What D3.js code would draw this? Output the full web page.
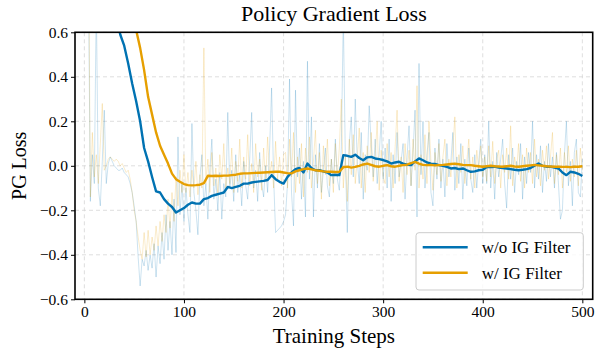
<!DOCTYPE html>
<html>
<head>
<meta charset="utf-8">
<script src="https://cdn.jsdelivr.net/npm/d3@7"></script>
<style>
  body { margin: 0; background: #fff; }
  svg { display: block; font-family: 'Liberation Serif', 'Times New Roman', serif; }
  .grid line { stroke: #d6d6d6; stroke-width: 0.8; stroke-dasharray: 4,3; }
  .axis path { display: none; }
  .axis line { stroke: #000; stroke-width: 1; }
</style>
</head>
<body>
<script>
'use strict'

const seriesNames = ['w/o IG Filter', 'w/ IG Filter']
const seriesColors = ['#0072B2', '#E69F00']
const xTicks = [0, 100, 200, 300, 400, 500]
const yTicks = [-0.6, -0.4, -0.2, 0.0, 0.2, 0.4, 0.6]

// raw loss, one value every 2 steps from step 4 to 500
const rawSteps = d3.range(4, 501, 2)
const rawNoFilter = [
  0.9, -0.16, 0.05, -0.08, 0.75, -0.10, -0.18, 0.02, 0.25, -0.08, 0.01, 0.04, 0.02, 0.0,
  -0.01, -0.02, -0.02, -0.01, -0.03, -0.04, -0.05, -0.08, -0.12, -0.18,
  -0.25, -0.41, -0.54, -0.42, -0.45, -0.38, -0.47, -0.40, -0.46, -0.35, -0.50, -0.36, -0.44, -0.30, -0.42, -0.22, -0.38, -0.25, -0.40, -0.15, -0.39, 0.13, -0.22, -0.08, -0.25,
  -0.10, -0.22, -0.30, 0.19, -0.12, -0.20, -0.31, -0.05, 0.05, -0.18, -0.08, -0.24, -0.02, 0.12, -0.15, -0.06, -0.20, -0.03, -0.24, -0.08, -0.14, 0.24, -0.10, -0.02, -0.16,
  0.05, -0.12, -0.04, -0.18, 0.02, -0.09, -0.15, 0.03, 0.24, -0.10, -0.02, -0.16, 0.06, -0.08, -0.14, 0.00, -0.12, 0.08, 0.35, -0.05, -0.30, -0.29, -0.28, -0.27, -0.25,
  -0.22, -0.08, 0.39, -0.12, -0.27, 0.34, -0.05, 0.08, -0.15, 0.02, -0.23, 0.47, -0.06, 0.22, -0.23, 0.05, -0.10, 0.10, -0.12, -0.02, 0.08, -0.09, -0.14, 0.03, -0.08,
  0.12, -0.06, -0.11, 0.08, 0.68, 0.05, -0.30, 0.10, 0.22, -0.05, 0.30, 0.02, -0.08, 0.15, -0.15, 0.05, -0.02, 0.27, 0.10, -0.05, 0.12, -0.08, 0.05, 0.20, -0.06,
  0.08, -0.10, 0.12, -0.16, 0.05, -0.08, 0.15, -0.05, 0.02, 0.10, -0.15, 0.04, 0.18, -0.09, 0.06, 0.25, -0.23, 0.46, -0.04, 0.20, -0.10, 0.05, 0.15, -0.12, -0.18,
  0.08, -0.06, 0.12, -0.10, 0.03, -0.14, 0.10, -0.05, 0.02, 0.15, -0.11, 0.04, -0.08, 0.10, -0.15, 0.03, -0.09, 0.08, -0.06, -0.12, 0.05, -0.10, 0.02, 0.12, -0.08,
  0.05, -0.08, 0.20, -0.10, 0.02, -0.15, 0.06, -0.05, 0.03, 0.12, -0.08, -0.19, 0.05, -0.06, 0.08, -0.12, 0.02, -0.04, 0.10, -0.15, 0.04, -0.08, 0.06, -0.03, 0.20,
  -0.10, 0.05, -0.06, 0.09, -0.12, 0.02, -0.07, 0.10, -0.05, 0.04, -0.10, 0.06, -0.08, -0.24, -0.20, 0.05, 0.20, -0.09, 0.02, -0.18, 0.06, 0.12, -0.12, -0.14, 0.03
]
const rawFilter = [
  1.2, -0.14, 0.15, -0.05, 0.05, -0.08, 0.10, 0.28, -0.02, 0.0, 0.03, 0.04, 0.03, 0.02,
  0.03, 0.02, 0.0, 0.01, -0.01, -0.03, -0.02, -0.06, -0.12, -0.20,
  -0.25, -0.32, -0.38, -0.42, -0.30, -0.41, -0.29, -0.40, -0.32, -0.38, -0.27, -0.36, -0.25, -0.34, -0.22, -0.30, -0.15, -0.28, -0.12, -0.25, -0.05, -0.18, -0.02, -0.12, 0.05,
  -0.12, -0.03, -0.14, -0.02, -0.10, 0.02, -0.13, -0.04, -0.10, 0.53, -0.08, 0.03, -0.12, 0.06, -0.09, -0.01, -0.13, 0.05, -0.06, 0.10, -0.11, -0.01, -0.08, 0.08, -0.12,
  0.02, -0.07, 0.12, -0.10, 0.04, -0.06, 0.14, -0.09, 0.01, -0.12, 0.10, -0.05, 0.03, -0.11, 0.08, -0.07, 0.13, -0.04, 0.02, -0.10, 0.11, -0.06, 0.04, -0.09, 0.05,
  0.06, -0.10, 0.12, -0.05, 0.15, -0.12, 0.04, -0.08, 0.10, -0.14, 0.08, -0.03, 0.13, -0.10, 0.02, 0.16, -0.08, 0.06, -0.15, 0.09, -0.04, 0.12, -0.09, 0.03, -0.12,
  0.10, -0.05, 0.08, 0.30, -0.10, 0.05, -0.16, 0.12, -0.04, 0.14, -0.08, 0.03, 0.17, -0.10, 0.06, -0.12, 0.09, -0.03, 0.15, -0.07, 0.04, 0.20, -0.11, 0.07, -0.05,
  -0.08, 0.10, -0.05, 0.06, -0.10, 0.08, 0.25, -0.07, 0.04, -0.12, 0.10, -0.04, 0.07, -0.09, 0.12, -0.02, 0.36, -0.10, 0.05, -0.06, 0.14, -0.08, 0.20, 0.02, -0.11,
  0.06, -0.04, 0.10, -0.07, 0.04, 0.12, -0.09, 0.03, -0.05, 0.08, 0.22, -0.10, 0.05, -0.03, 0.09, -0.08, 0.02, 0.12, -0.06, 0.04, -0.10, 0.07, -0.02, 0.09, -0.05,
  0.04, -0.07, 0.09, -0.05, 0.11, -0.08, 0.03, 0.07, -0.10, 0.05, -0.03, 0.08, -0.06, 0.18, -0.09, 0.04, -0.02, 0.10, -0.07, 0.05, -0.10, 0.08, -0.03, 0.06, -0.08,
  0.12, -0.05, 0.03, -0.09, 0.07, -0.02, 0.09, -0.06, 0.04, 0.15, -0.08, 0.05, -0.04, 0.08, -0.10, 0.06, -0.03, 0.09, -0.07, 0.03, -0.05, 0.07, -0.09, 0.08, -0.02
]

// smoothed loss, one value every 4 steps from step 4 to 500
const smoothSteps = d3.range(4, 501, 4)
const smoothNoFilter = [
  1.5, 1.35, 1.2, 1.08, 0.97, 0.87, 0.78, 0.68, 0.59, 0.54,
  0.46, 0.37, 0.29, 0.20, 0.08, 0.02, -0.05, -0.115, -0.12, -0.15,
  -0.17, -0.185, -0.21, -0.20, -0.19, -0.175, -0.165, -0.17, -0.17, -0.15,
  -0.145, -0.135, -0.13, -0.125, -0.12, -0.095, -0.10, -0.095, -0.09, -0.08,
  -0.08, -0.075, -0.072, -0.07, -0.068, -0.064, -0.042, -0.06, -0.072, -0.08,
  -0.05, -0.03, -0.015, -0.01, -0.03, 0.01, -0.01, -0.02, -0.02, -0.025,
  -0.03, -0.042, -0.04, -0.042, 0.048, 0.045, 0.04, 0.05, 0.035, 0.025,
  0.038, 0.04, 0.033, 0.03, 0.026, 0.02, 0.01, 0.015, 0.018, 0.01,
  0.005, 0.003, 0.02, 0.033, 0.025, 0.015, 0.01, 0.008, 0.003, 0.0,
  -0.005, -0.012, -0.01, -0.015, -0.012, -0.02, -0.027, -0.025, -0.02, -0.018,
  -0.005, -0.006, -0.004, -0.008, -0.01, -0.012, -0.015, -0.018, -0.02, -0.018,
  -0.015, -0.01, 0.0, 0.01, 0.0, -0.004, -0.004, -0.008, -0.012, -0.03,
  -0.042, -0.027, -0.03, -0.036, -0.046
]
const smoothFilter = [
  2.4, 2.2, 2.0, 1.8, 1.62, 1.45, 1.3, 1.15, 1.01, 0.9,
  0.79, 0.69, 0.61, 0.53, 0.43, 0.31, 0.23, 0.15, 0.09, 0.05,
  0.01, -0.035, -0.06, -0.072, -0.082, -0.087, -0.088, -0.087, -0.085, -0.078,
  -0.045, -0.046, -0.045, -0.046, -0.044, -0.044, -0.042, -0.04, -0.036, -0.034,
  -0.034, -0.033, -0.032, -0.031, -0.03, -0.029, -0.028, -0.027, -0.027, -0.03,
  -0.033, -0.034, -0.025, -0.02, -0.015, -0.012, -0.016, -0.02, -0.022, -0.025,
  -0.027, -0.027, -0.028, -0.027, -0.006, -0.004, -0.008, -0.005, 0.0, 0.006,
  0.01, 0.004, -0.002, -0.004, 0.0, 0.003, -0.002, -0.004, 0.0, 0.003,
  0.005, 0.012, 0.018, 0.01, 0.004, 0.003, 0.004, 0.002, 0.003, 0.004,
  0.006, 0.008, 0.01, 0.007, 0.004, 0.003, 0.003, 0.0, -0.002, -0.004,
  -0.002, 0.0, -0.002, -0.003, -0.004, -0.002, 0.0, -0.003, -0.004, -0.002,
  0.0, 0.002, 0.004, 0.002, 0.0, -0.002, -0.003, -0.004, -0.004, -0.005,
  -0.005, -0.006, -0.004, -0.004, -0.002
]

;(function () {
  const width = 603
  const height = 351
  const margin = { top: 32.3, right: 10.3, bottom: 51.7, left: 75 }
  const panelWidth = width - margin.left - margin.right
  const panelHeight = height - margin.top - margin.bottom
  const serif = "'Liberation Serif', 'Times New Roman', serif"

  const svg = d3.select('body').append('svg')
    .attr('width', width)
    .attr('height', height)

  const scaleX = d3.scaleLinear().domain([-9.4, 510.4]).range([0, panelWidth])
  const scaleY = d3.scaleLinear().domain([-0.6, 0.6]).range([panelHeight, 0])

  const plot = svg.append('g')
    .attr('transform', 'translate(' + margin.left + ',' + margin.top + ')')

  svg.append('defs').append('clipPath')
    .attr('id', 'panel-clip')
    .append('rect')
    .attr('width', panelWidth)
    .attr('height', panelHeight)

  plot.append('g').attr('class', 'grid')
    .selectAll('line.gx')
    .data(xTicks)
    .enter().append('line')
    .attr('x1', function (d) { return scaleX(d) })
    .attr('x2', function (d) { return scaleX(d) })
    .attr('y1', 0)
    .attr('y2', panelHeight)
  plot.select('.grid')
    .selectAll('line.gy')
    .data(yTicks)
    .enter().append('line')
    .attr('x1', 0)
    .attr('x2', panelWidth)
    .attr('y1', function (d) { return scaleY(d) })
    .attr('y2', function (d) { return scaleY(d) })

  const panel = plot.append('g').attr('clip-path', 'url(#panel-clip)')

  const line = d3.line()
    .x(function (d) { return scaleX(d[0]) })
    .y(function (d) { return scaleY(d[1]) })

  const raw = [rawNoFilter, rawFilter]
  const smooth = [smoothNoFilter, smoothFilter]

  raw.forEach(function (values, i) {
    panel.append('path')
      .attr('d', line(d3.zip(rawSteps, values)))
      .attr('fill', 'none')
      .attr('stroke', seriesColors[i])
      .attr('stroke-opacity', 0.2)
      .attr('stroke-width', 1)
  })
  smooth.forEach(function (values, i) {
    panel.append('path')
      .attr('d', line(d3.zip(smoothSteps, values)))
      .attr('fill', 'none')
      .attr('stroke', seriesColors[i])
      .attr('stroke-width', 2.4)
      .attr('stroke-linejoin', 'round')
  })

  const axisX = d3.axisBottom(scaleX).tickValues(xTicks).tickSize(4).tickPadding(3)
    .tickFormat(d3.format('d'))
  const axisY = d3.axisLeft(scaleY).tickValues(yTicks).tickSize(4).tickPadding(3)
    .tickFormat(d3.format('.1f'))

  plot.append('g')
    .attr('class', 'axis x')
    .attr('transform', 'translate(0,' + panelHeight + ')')
    .call(axisX)
  plot.append('g')
    .attr('class', 'axis y')
    .call(axisY)
  plot.selectAll('.axis')
    .attr('font-family', serif)
    .attr('font-size', 15.5)
  plot.selectAll('.axis text')
    .style('font-family', serif)
    .style('font-size', '15.5px')
    .attr('fill', '#000')

  plot.append('rect')
    .attr('width', panelWidth)
    .attr('height', panelHeight)
    .attr('fill', 'none')
    .attr('stroke', '#000')
    .attr('stroke-width', 1.6)

  svg.append('text')
    .attr('x', margin.left + panelWidth / 2)
    .attr('y', 21)
    .attr('text-anchor', 'middle')
    .attr('font-size', 22)
    .text('Policy Gradient Loss')
  svg.append('text')
    .attr('x', margin.left + panelWidth / 2)
    .attr('y', 343)
    .attr('text-anchor', 'middle')
    .attr('font-size', 21)
    .text('Training Steps')
  svg.append('text')
    .attr('text-anchor', 'middle')
    .attr('font-size', 20)
    .attr('transform', 'translate(26,' + (margin.top + panelHeight / 2) + ') rotate(-90)')
    .text('PG Loss')

  const legend = svg.append('g')
    .attr('transform', 'translate(416,232.7)')
  legend.append('rect')
    .attr('width', 167.3)
    .attr('height', 57.3)
    .attr('rx', 3)
    .attr('fill', '#fff')
    .attr('fill-opacity', 0.8)
    .attr('stroke', '#cccccc')
    .attr('stroke-width', 1)
  const items = legend.selectAll('g.item')
    .data(seriesNames)
    .enter().append('g')
    .attr('class', 'item')
    .attr('transform', function (d, i) { return 'translate(0,' + (14.6 + i * 25.4) + ')' })
  items.append('line')
    .attr('x1', 6.7)
    .attr('x2', 51.7)
    .attr('stroke', function (d, i) { return seriesColors[i] })
    .attr('stroke-width', 2.4)
  items.append('text')
    .attr('x', 65.7)
    .attr('y', 6)
    .attr('font-size', 17)
    .text(function (d) { return d })
})()
</script>
</body>
</html>
